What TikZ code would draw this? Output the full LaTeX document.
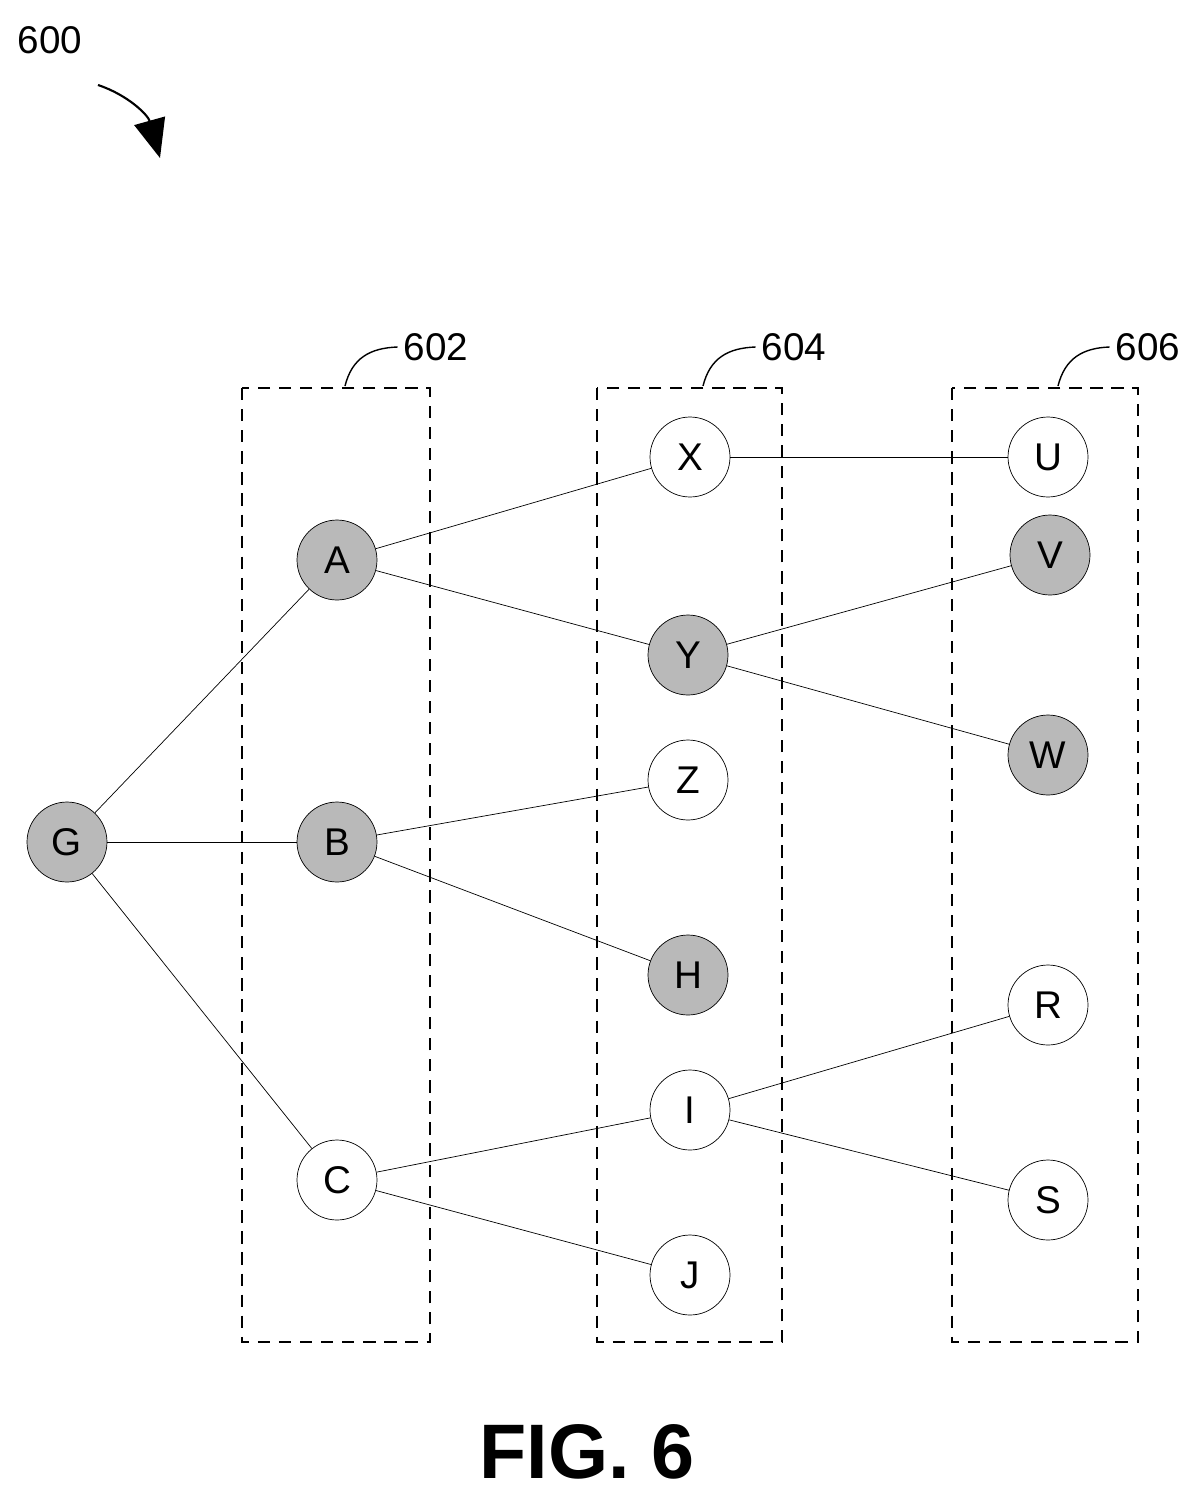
\documentclass[tikz,border=0pt]{standalone}
\usepackage{fontspec}
\setmainfont{Liberation Sans}
\usetikzlibrary{arrows.meta}

\begin{document}
\begin{tikzpicture}[x=0.02cm,y=-0.02cm,
  main node/.style={circle,draw,thin,minimum size=1.6cm,inner sep=0pt,font=\fontsize{22}{24}\selectfont},
  grey node/.style={main node,fill=gray!55},
  group box/.style={draw,dashed,thick,dash pattern=on 7pt off 5pt},
  ref label/.style={font=\fontsize{22}{24}\selectfont}]

  \useasboundingbox (0,0) rectangle (1201,1501);

  % groups
  \draw[group box] (242,388) rectangle (430,1342);
  \draw[group box] (597,388) rectangle (782,1342);
  \draw[group box] (952,388) rectangle (1138,1342);

  \node[ref label] (l602) at (436,347) {602};
  \node[ref label] (l604) at (794,347) {604};
  \node[ref label] (l606) at (1148,347) {606};
  \draw[thick] (345,386) .. controls (352,358) and (370,348) .. (l602.west);
  \draw[thick] (703,386) .. controls (710,358) and (728,348) .. (l604.west);
  \draw[thick] (1058,386) .. controls (1065,358) and (1083,348) .. (l606.west);

  % nodes
  \node[grey node] (G) at (67,842) {G};
  \node[grey node] (A) at (337,560) {A};
  \node[grey node] (B) at (337,842) {B};
  \node[main node] (C) at (337,1180) {C};
  \node[main node] (X) at (690,457) {X};
  \node[grey node] (Y) at (688,655) {Y};
  \node[main node] (Z) at (688,780) {Z};
  \node[grey node] (H) at (688,975) {H};
  \node[main node] (I) at (690,1110) {I};
  \node[main node] (J) at (690,1275) {J};
  \node[main node] (U) at (1048,457) {U};
  \node[grey node] (V) at (1050,555) {V};
  \node[grey node] (W) at (1048,755) {W};
  \node[main node] (R) at (1048,1005) {R};
  \node[main node] (S) at (1048,1200) {S};

  \path[draw,thin]
    (G) edge (A) (G) edge (B) (G) edge (C)
    (A) edge (X) (A) edge (Y)
    (B) edge (Z) (B) edge (H)
    (C) edge (I) (C) edge (J)
    (X) edge (U) (Y) edge (V) (Y) edge (W)
    (I) edge (R) (I) edge (S);

  % figure reference
  \node[ref label] (l600) at (50,40) {600};
  \coordinate (tip) at (160,158);
  \draw[very thick,-{Triangle[length=22pt,width=18pt]}] (98,85) .. controls (128,95) and (148,115) .. (tip);

  \node[font=\fontsize{44}{48}\selectfont\bfseries] (fig) at (587,1452) {FIG. 6};
\end{tikzpicture}
\end{document}
